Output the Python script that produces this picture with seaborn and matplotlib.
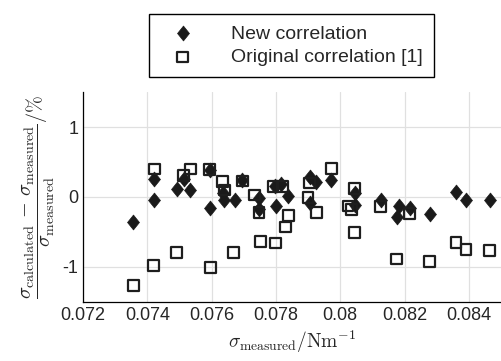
import numpy as np
import pandas as pd
import matplotlib
matplotlib.use("Agg")
import matplotlib.pyplot as plt
import seaborn as sns
from matplotlib.path import Path

# -------------------------------
# Data
# -------------------------------
new_x = [0.07357, 0.07422, 0.07420, 0.07491, 0.07513, 0.07534, 0.07594, 0.07596,
         0.07635, 0.07640, 0.07672, 0.07695, 0.07747, 0.07747, 0.07796, 0.07817,
         0.07837, 0.07801, 0.07905, 0.07925, 0.07905, 0.07972, 0.08045, 0.08045,
         0.08126, 0.08175, 0.08183, 0.08216, 0.08278, 0.08360, 0.08391, 0.08465]
new_y = [-0.36, 0.26, -0.05, 0.12, 0.26, 0.10, 0.39, -0.16,
         0.06, -0.04, -0.04, 0.25, -0.01, -0.17, 0.16, 0.18,
         0.01, -0.13, 0.29, 0.21, -0.09, 0.24, 0.06, -0.11,
         -0.04, -0.28, -0.13, -0.16, -0.24, 0.07, -0.05, -0.04]

orig_x = [0.07357, 0.07422, 0.07420, 0.07491, 0.07513, 0.07534, 0.07594, 0.07596,
          0.07633, 0.07640, 0.07668, 0.07695, 0.07733, 0.07747, 0.07751, 0.07799,
          0.07791, 0.07820, 0.07829, 0.07840, 0.07900, 0.07905, 0.07927, 0.07972,
          0.08024, 0.08035, 0.08045, 0.08045, 0.08126, 0.08175, 0.08216, 0.08278,
          0.08360, 0.08391, 0.08465]
orig_y = [-1.27, 0.40, -0.98, -0.80, 0.31, 0.40, 0.39, -1.01,
          0.22, 0.10, -0.80, 0.23, 0.03, -0.22, -0.64, -0.66,
          0.15, 0.15, -0.43, -0.27, -0.01, 0.20, -0.22, 0.41,
          -0.13, -0.18, 0.12, -0.51, -0.14, -0.89, -0.24, -0.92,
          -0.65, -0.75, -0.77]

x_ticks = [0.072, 0.074, 0.076, 0.078, 0.08, 0.082, 0.084]
x_ticklabels = ["0.072", "0.074", "0.076", "0.078", "0.08", "0.082", "0.084"]
y_ticks = [-1, 0, 1]

# -------------------------------
# Style
# -------------------------------
sns.set_style("white")
plt.rcParams["font.family"] = ["Liberation Sans", "DejaVu Sans"]
plt.rcParams["mathtext.fontset"] = "cm"
plt.rcParams["axes.unicode_minus"] = False

df_new = pd.DataFrame({"x": new_x, "y": new_y})
df_orig = pd.DataFrame({"x": orig_x, "y": orig_y})

# taller-than-wide diamond like the matlab one
diamond = Path([(-0.8, 0), (0, 1), (0.8, 0), (0, -1), (-0.8, 0)],
               [Path.MOVETO, Path.LINETO, Path.LINETO, Path.LINETO, Path.CLOSEPOLY])

fig = plt.figure(figsize=(5.01, 3.61), dpi=100)
ax = fig.add_axes([0.1657, 0.1643, 0.8343, 0.58])

sns.scatterplot(data=df_new, x="x", y="y", ax=ax, marker=diamond, s=115,
                color="#1a1a1a", edgecolor="#1a1a1a", linewidth=0.5,
                label="New correlation", zorder=3)
sns.scatterplot(data=df_orig, x="x", y="y", ax=ax, marker="s", s=60,
                facecolor="none", edgecolor="#1e1e1e", linewidth=1.6,
                label="Original correlation [1]", zorder=4)

ax.set_xlim(0.072, 0.085)
ax.set_ylim(-1.5, 1.5)
ax.set_xticks(x_ticks)
ax.set_xticklabels(x_ticklabels)
ax.set_yticks(y_ticks)
ax.tick_params(direction="in", length=4, width=0.8, labelsize=13, color="black")
ax.grid(True, color="#e0e0e0", linewidth=0.9)
ax.set_axisbelow(True)
for side in ["top", "right"]:
    ax.spines[side].set_visible(False)
for side in ["left", "bottom"]:
    ax.spines[side].set_color("black")
    ax.spines[side].set_linewidth(0.9)

ax.set_xlabel(r"$\sigma_{\mathrm{measured}}/\mathrm{Nm}^{-1}$", fontsize=14, labelpad=4)
ax.set_ylabel(r"$\dfrac{\sigma_{\mathrm{calculated}}\,-\,\sigma_{\mathrm{measured}}}"
              r"{\sigma_{\mathrm{measured}}}/\%$", fontsize=14.5, labelpad=4)

ax.legend_.remove()
h, l = ax.get_legend_handles_labels()
leg = fig.legend(h, l, loc="center", bbox_to_anchor=(0.581, 0.874), fontsize=14,
                 frameon=True, fancybox=False, edgecolor="black", framealpha=1,
                 borderpad=0.55, handletextpad=1.3, labelspacing=0.3, borderaxespad=0,
                 handlelength=2.4)
leg.get_frame().set_linewidth(1.0)

fig.savefig("out.png", dpi=100)
